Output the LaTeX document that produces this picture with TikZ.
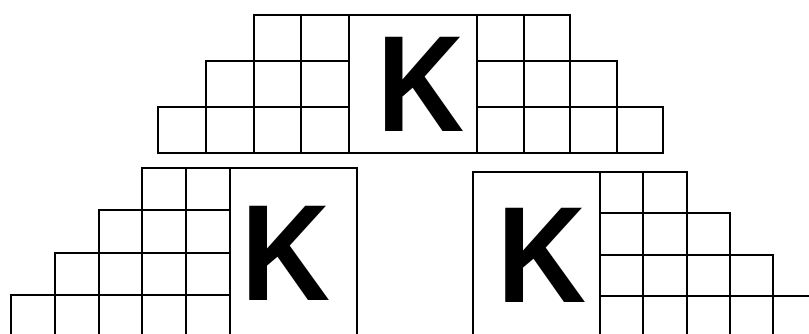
\documentclass[tikz,border=0pt]{standalone}
\usepackage{fontspec}
\newfontfamily\kfont{Liberation Sans}

\begin{document}
\begin{tikzpicture}[x=1pt, y=-1pt,
    cell/.style={draw=black, line width=2pt},
    kbox/.style={draw=black, line width=2pt, anchor=north west,
        inner sep=0pt, outer sep=0pt},
    kletter/.style={font=\kfont\bfseries\fontsize{137}{137}\selectfont,
        inner sep=0pt}
  ]
  \useasboundingbox (0,0) rectangle (809,334);
  \clip (0,0) rectangle (809,334);
  % top stack
  \foreach \r in {0,1,2} {
    \pgfmathtruncatemacro\n{\r+1}
    \foreach \c in {0,...,\n} {
      \draw[cell] ({349-(\c+1)*47.75},{15+\r*46}) rectangle ++(47.75,46);
      \draw[cell] ({477+\c*46.5},{15+\r*46}) rectangle ++(46.5,46);
    }
  }
  \node[kbox, minimum width=128pt, minimum height=138pt] (ktop) at (349,15) {};
  \node[kletter] (ktopk) at ([xshift=8pt]ktop.center) {\scalebox{0.88}[1]{K}};
  % lower left stack
  \foreach \r in {0,...,3} {
    \pgfmathtruncatemacro\n{\r+1}
    \foreach \c in {0,...,\n}
      \draw[cell] ({230-(\c+1)*43.8},{168+\r*42.3}) rectangle ++(43.8,42.3);
  }
  \node[kbox, minimum width=127pt, minimum height=170pt] (kleft) at (230,168) {};
  \node[kletter] (kleftk) at ([xshift=-7pt]kleft.center) {\scalebox{0.9}[1]{K}};
  % lower right stack
  \foreach \r in {0,...,3} {
    \pgfmathtruncatemacro\n{\r+1}
    \foreach \c in {0,...,\n}
      \draw[cell] ({600+\c*43.3},{172+\r*41.3}) rectangle ++(43.3,41.3);
  }
  \node[kbox, minimum width=127pt, minimum height=166pt] (kright) at (473,172) {};
  \node[kletter] (krightk) at ([xshift=6pt]kright.center) {\scalebox{0.9}[1]{K}};
\end{tikzpicture}
\end{document}
